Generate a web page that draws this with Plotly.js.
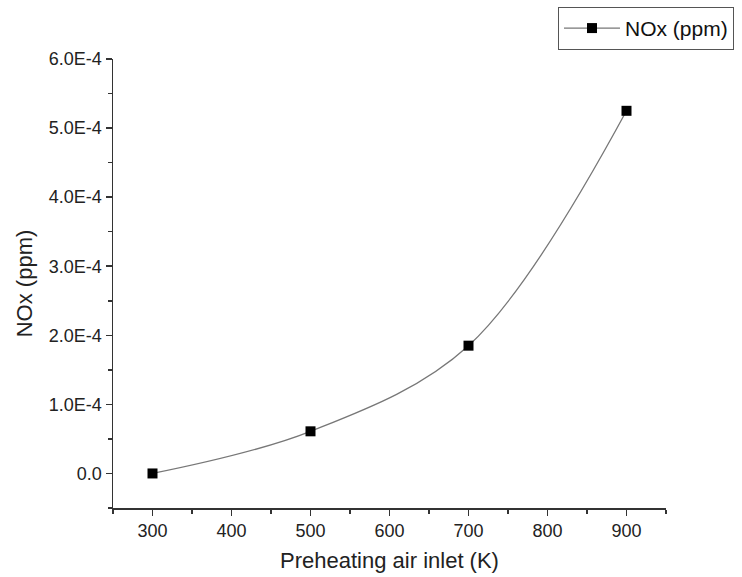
<!DOCTYPE html>
<html><head><meta charset="utf-8">
<script src="https://cdn.plot.ly/plotly-3.0.1.min.js"></script>
<style>html,body{margin:0;padding:0;background:#fff}#plot{width:742px;height:577px}</style>
</head><body><div id="plot"></div>
<script>
const temps = [300, 500, 700, 900];
const nox = [0.0, 6.1e-5, 1.85e-4, 5.25e-4];
const yTickVals = [0, 1e-4, 2e-4, 3e-4, 4e-4, 5e-4, 6e-4];
const yTickText = ["0.0", "1.0E-4", "2.0E-4", "3.0E-4", "4.0E-4", "5.0E-4", "6.0E-4"];
const xTickVals = [300, 400, 500, 600, 700, 800, 900];

const trace = {
  x: temps, y: nox, name: 'NOx (ppm)', mode: 'lines+markers', type: 'scatter',
  line: {shape: 'spline', smoothing: 1, color: '#777', width: 1.3},
  marker: {symbol: 'square', size: 10, color: '#000'}
};
const font = {family: 'Liberation Sans, Arial, sans-serif', color: '#222'};
const layout = {
  width: 742, height: 577,
  margin: {l: 113, r: 76, t: 59, b: 69, autoexpand: false},
  paper_bgcolor: '#fff', plot_bgcolor: '#fff',
  font: font,
  showlegend: true,
  legend: {xref: 'container', yref: 'container', x: 0.752, xanchor: 'left', y: 0.988, yanchor: 'top',
    bordercolor: '#555', borderwidth: 1, itemwidth: 56,
    font: {family: font.family, size: 21, color: '#111'}, bgcolor: '#fff'},
  xaxis: {range: [250, 950], tickvals: xTickVals, showgrid: false, zeroline: false, automargin: false,
    showline: true, linecolor: '#333', linewidth: 1.5, ticks: 'outside', ticklen: 6, tickcolor: '#333', tickwidth: 1.5,
    minor: {dtick: 50, tick0: 250, ticks: 'outside', ticklen: 4, tickcolor: '#333', tickwidth: 1.5},
    tickfont: {size: 18, color: '#222'},
    title: {text: 'Preheating air inlet (K)', font: {size: 22, color: '#222'}, standoff: 12}},
  yaxis: {range: [-5e-5, 6e-4], tickvals: yTickVals, ticktext: yTickText, showgrid: false, zeroline: false, automargin: false,
    showline: true, linecolor: '#333', linewidth: 1.5, ticks: 'outside', ticklen: 6, tickcolor: '#333', tickwidth: 1.5,
    minor: {dtick: 5e-5, tick0: 0, ticks: 'outside', ticklen: 4, tickcolor: '#333', tickwidth: 1.5},
    tickfont: {size: 18, color: '#222'},
    title: {text: 'NOx (ppm)', font: {size: 22, color: '#222'}, standoff: 10}}
};
Plotly.newPlot('plot', [trace], layout, {displayModeBar: false, staticPlot: true});
</script></body></html>
